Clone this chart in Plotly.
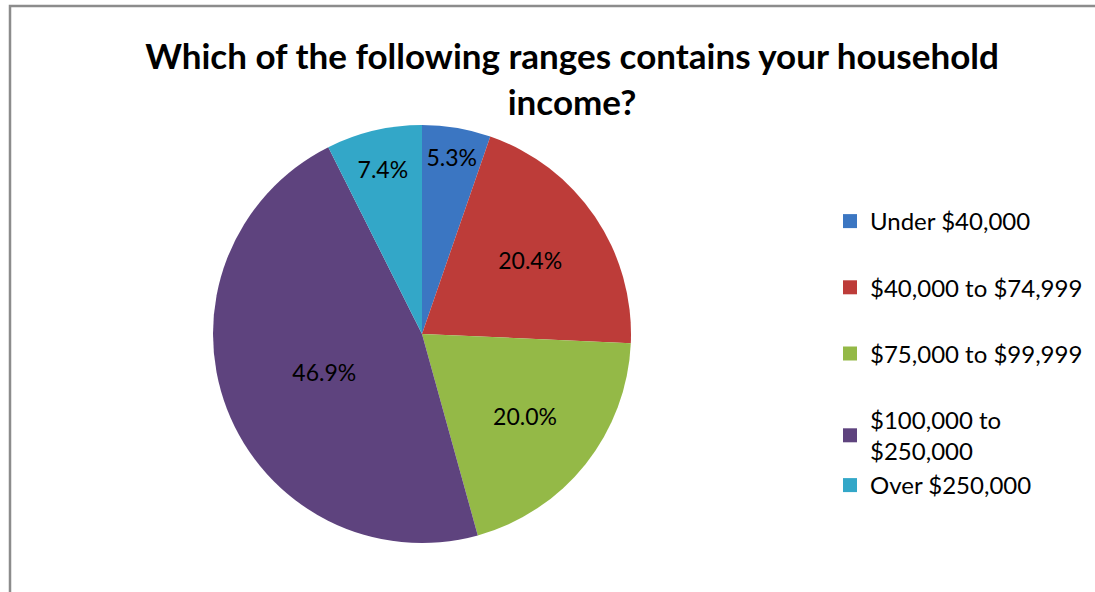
import plotly.graph_objects as go

categories = ["Under $40,000", "$40,000 to $74,999", "$75,000 to $99,999",
              "$100,000 to $250,000", "Over $250,000"]
legend_labels = ["Under $40,000", "$40,000 to $74,999", "$75,000 to $99,999",
                 "$100,000 to<br>$250,000", "Over $250,000"]
values = [5.3, 20.4, 20.0, 46.9, 7.4]
colors = ["#3b76c2", "#bd3c39", "#94b947", "#5e437e", "#33a7c8"]
groups = ["g1", "g2", "g3", "g4", "g4"]

W, H = 1095, 592

fig = go.Figure()
fig.add_trace(go.Pie(
    labels=categories, values=values, sort=False, direction="clockwise",
    rotation=0, marker=dict(colors=colors, line=dict(width=0)),
    texttemplate="%{value:.1f}%", textposition="inside",
    insidetextorientation="horizontal",
    textfont=dict(family="Lato", size=23, color="black"),
    showlegend=False,
    domain=dict(x=[213/W, 631/W], y=[1-543/H, 1-125/H]),
))
for lab, col, g in zip(legend_labels, colors, groups):
    fig.add_trace(go.Scatter(
        x=[None], y=[None], mode="markers", name=lab, legendgroup=g,
        marker=dict(symbol="square", size=14, color=col),
    ))

fig.update_layout(
    width=W, height=H,
    margin=dict(l=0, r=0, t=0, b=0),
    paper_bgcolor="white", plot_bgcolor="white",
    xaxis=dict(visible=False), yaxis=dict(visible=False),
    title=dict(text="<b>Which of the following ranges contains your household<br>income?</b>",
               x=572/W, xanchor="center", y=1-69/H, yanchor="top",
               font=dict(family="Lato", size=35, color="black")),
    legend=dict(x=830/W, xanchor="left", y=1-199/H, yanchor="top",
                font=dict(family="Lato", size=24, color="black"),
                tracegroupgap=32, itemwidth=30, bgcolor="rgba(0,0,0,0)"),
    shapes=[dict(type="rect", xref="paper", yref="paper",
                 x0=10/W, x1=1.05, y0=-0.05, y1=1-6/H,
                 line=dict(color="#8c8c8c", width=2.5))],
)
fig.write_html("out.html", config={"displayModeBar": False},
               post_script="document.body.style.margin='0';")
